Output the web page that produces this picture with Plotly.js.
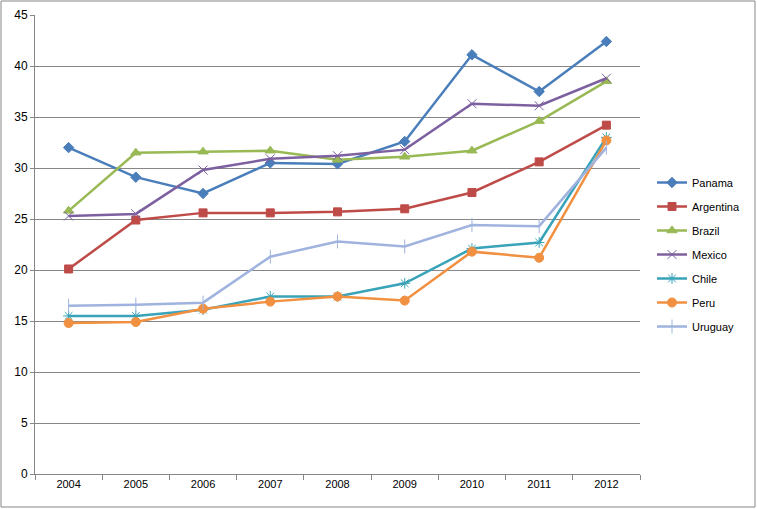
<!DOCTYPE html>
<html>
<head>
<meta charset="utf-8">
<script src="https://cdn.plot.ly/plotly-3.0.1.min.js"></script>
<style>html,body{margin:0;padding:0;background:#fff;}#chart{width:757px;height:509px;}</style>
</head>
<body>
<div id="chart"></div>
<script>
const years = ['2004','2005','2006','2007','2008','2009','2010','2011','2012'];
const panama    = [32.0, 29.1, 27.5, 30.5, 30.4, 32.6, 41.1, 37.5, 42.4];
const argentina = [20.1, 24.9, 25.6, 25.6, 25.7, 26.0, 27.6, 30.6, 34.2];
const brazil    = [25.8, 31.5, 31.6, 31.7, 30.8, 31.1, 31.7, 34.6, 38.5];
const mexico    = [25.3, 25.5, 29.8, 30.9, 31.2, 31.8, 36.3, 36.1, 38.8];
const chile     = [15.5, 15.5, 16.1, 17.4, 17.4, 18.7, 22.1, 22.7, 33.0];
const peru      = [14.8, 14.9, 16.2, 16.9, 17.4, 17.0, 21.8, 21.2, 32.7];
const uruguay   = [16.5, 16.6, 16.8, 21.3, 22.8, 22.3, 24.4, 24.3, 32.0];
const yTicks    = [0, 5, 10, 15, 20, 25, 30, 35, 40, 45];

const series = [
  {name:'Panama', y:panama, color:'#4a7ebb', symbol:'diamond', size:8},
  {name:'Argentina', y:argentina, color:'#be4b48', symbol:'square', size:8},
  {name:'Brazil', y:brazil, color:'#98b954', symbol:'triangle-up', size:9},
  {name:'Mexico', y:mexico, color:'#7d60a0', symbol:'x-thin-open', size:9},
  {name:'Chile', y:chile, color:'#38a3b9', symbol:'asterisk-open', size:9},
  {name:'Peru', y:peru, color:'#f09040', symbol:'circle', size:9},
  {name:'Uruguay', y:uruguay, color:'#9fb3de', symbol:'line-ns-open', size:10}
];

const traces = series.map((s, i) => ({
  type:'scatter', mode:'lines+markers', name:s.name, x:years, y:s.y,
  legendgroup:'g'+i,
  line:{color:s.color, width:2.5},
  marker:{symbol:s.symbol, size:s.size, color:s.color, line:{color:s.color, width:1}}
}));

const W = 757, H = 509, ml = 35, mr = 117, mt = 15, mb = 35;
const pw = W - ml - mr, ph = H - mt - mb;

const layout = {
  width:W, height:H,
  margin:{l:ml, r:mr, t:mt, b:mb, pad:0},
  paper_bgcolor:'#fff', plot_bgcolor:'#fff',
  font:{family:'Liberation Sans, Arial, sans-serif', size:11, color:'#000'},
  showlegend:true,
  legend:{x:(652-ml)/pw, y:(474-168)/ph, xanchor:'left', yanchor:'top',
          font:{size:11}, tracegroupgap:5, traceorder:'grouped', itemwidth:30,
          bgcolor:'rgba(0,0,0,0)'},
  xaxis:{type:'category', range:[-0.5, 8.5], tickson:'boundaries', ticks:'outside',
         ticklen:5, tickcolor:'#868686', showline:true, linecolor:'#868686', linewidth:1,
         showgrid:false, zeroline:false, fixedrange:true, tickfont:{size:11}},
  yaxis:{range:[0,45], tickvals:yTicks, ticktext:yTicks.map(String), ticks:'outside',
         ticklen:4, tickcolor:'#868686', showline:true, linecolor:'#868686', linewidth:1,
         showgrid:true, gridcolor:'#868686', gridwidth:1, zeroline:false, fixedrange:true,
         tickfont:{size:12}},
  shapes:[{type:'rect', xref:'paper', yref:'paper',
           x0:(1-ml)/pw, x1:(755-ml)/pw, y0:(474-507)/ph, y1:(474-1)/ph,
           line:{color:'#868686', width:1}, fillcolor:'rgba(0,0,0,0)', layer:'below'}]
};

Plotly.newPlot('chart', traces, layout, {staticPlot:true, displayModeBar:false});
</script>
</body>
</html>
